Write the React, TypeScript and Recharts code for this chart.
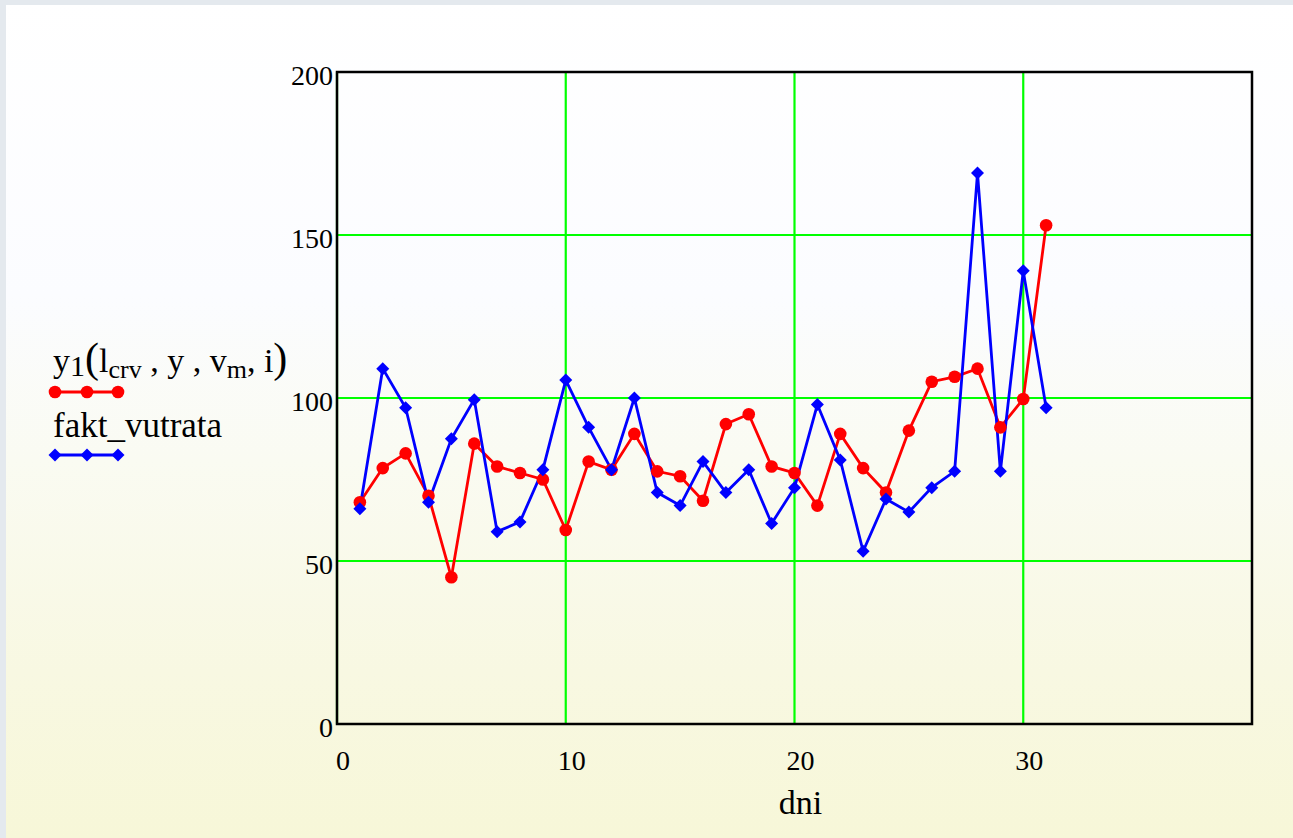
import { LineChart, Line, XAxis, YAxis, CartesianGrid, ReferenceArea, Legend } from 'recharts';

const days = [1, 2, 3, 4, 5, 6, 7, 8, 9, 10, 11, 12, 13, 14, 15, 16, 17, 18, 19, 20, 21, 22, 23, 24, 25, 26, 27, 28, 29, 30, 31];
const modelValues = [68, 78.5, 83, 70, 45, 86, 79, 77, 75, 59.5, 80.5, 78, 89, 77.5, 76, 68.5, 92, 95, 79, 77, 67, 89, 78.5, 71, 90, 105, 106.5, 109, 91, 99.7, 153];
const factValues = [66, 109, 97, 68, 87.5, 99.5, 59, 62, 78, 105.5, 91, 78, 100, 71, 67, 80.5, 71, 78, 61.5, 72.5, 98, 81, 53, 69, 65, 72.5, 77.5, 169, 77.5, 139, 97];
const xTicks = [0, 10, 20, 30];
const yTicks = [0, 50, 100, 150, 200];

const data = days.map((d, i) => ({ day: d, model: modelValues[i], fact: factValues[i] }));

const SERIF = '"Liberation Serif", "DejaVu Serif", serif';
const RED = '#ff0000';
const BLUE = '#0000ff';

function Diamond({ cx, cy, size = 6.5 }: { cx?: number; cy?: number; size?: number }) {
  if (cx == null || cy == null) return null;
  return (
    <polygon
      points={`${cx},${cy - size} ${cx + size},${cy} ${cx},${cy + size} ${cx - size},${cy}`}
      fill={BLUE}
    />
  );
}

function XTick({ x, y, payload }: any) {
  return (
    <text x={x + 6} y={y + 38} textAnchor="middle" fontFamily={SERIF} fontSize={28} fill="#000">
      {payload.value}
    </text>
  );
}

function YTick({ y, payload }: any) {
  return (
    <text x={333} y={y + 13} textAnchor="end" fontFamily={SERIF} fontSize={28} fill="#000">
      {payload.value}
    </text>
  );
}

function LegendBox() {
  const xs = [55, 87, 118];
  return (
    <svg width={300} height={140} style={{ display: 'block' }}>
      <text x={53} y={42} fontFamily={SERIF} fontSize={34} fill="#000">
        <tspan>y</tspan>
        <tspan fontSize={30} dy={4}>1</tspan>
        <tspan fontSize={42} dy={-4}>(</tspan>
        <tspan>l</tspan>
        <tspan fontSize={26} dy={6}>crv</tspan>
        <tspan dy={-6}> , y , v</tspan>
        <tspan fontSize={26} dy={6}>m</tspan>
        <tspan dy={-6}>, i</tspan>
        <tspan fontSize={42}>)</tspan>
      </text>
      <line x1={55} x2={118} y1={62} y2={62} stroke={RED} strokeWidth={2.8} />
      {xs.map((x) => (
        <circle key={`r${x}`} cx={x} cy={62} r={6.3} fill={RED} />
      ))}
      <text x={53} y={107} fontFamily={SERIF} fontSize={35} fill="#000">
        fakt_vutrata
      </text>
      <line x1={55} x2={118} y1={125} y2={125} stroke={BLUE} strokeWidth={2.8} />
      {xs.map((x) => (
        <Diamond key={`b${x}`} cx={x} cy={125} />
      ))}
    </svg>
  );
}

export default function App() {
  return (
    <div
      style={{
        position: 'relative',
        width: 1293,
        height: 838,
        overflow: 'hidden',
        background:
          'linear-gradient(to bottom, #ffffff 0%, #fbfcff 35%, #fafbf2 55%, #f8f8e2 80%, #f7f7d8 100%)',
      }}
    >
      <style>{'body{margin:0}'}</style>
      <div style={{ position: 'absolute', left: 0, top: 0, width: 1293, height: 5, background: '#e4e9ee' }} />
      <div style={{ position: 'absolute', left: 0, top: 0, width: 6, height: 838, background: '#e4e9ee' }} />
      <div style={{ position: 'absolute', left: 0, top: 0 }}>
        <LineChart width={1293} height={838} data={data} margin={{ top: 72, right: 41, left: 0, bottom: 0 }}>
          <CartesianGrid stroke="#00ff00" strokeWidth={2.2} horizontalValues={yTicks} verticalValues={xTicks} />
          <XAxis
            dataKey="day"
            type="number"
            domain={[0, 40]}
            ticks={xTicks}
            height={114}
            axisLine={false}
            tickLine={false}
            tick={<XTick />}
            interval={0}
            label={{
              content: ({ viewBox }: any) => (
                <text
                  x={viewBox.x + viewBox.width / 2 + 6}
                  y={viewBox.y + 90}
                  textAnchor="middle"
                  fontFamily={SERIF}
                  fontSize={34}
                  fill="#000"
                >
                  dni
                </text>
              ),
            }}
          />
          <YAxis
            type="number"
            domain={[0, 200]}
            ticks={yTicks}
            width={337}
            axisLine={false}
            tickLine={false}
            tick={<YTick />}
            interval={0}
          />
          <ReferenceArea x1={0} x2={40} y1={0} y2={200} fill="none" stroke="#000" strokeWidth={2.5} ifOverflow="visible" />
          <Legend
            layout="horizontal"
            verticalAlign="middle"
            align="center"
            wrapperStyle={{ position: 'absolute', left: 0, top: 330, width: 300, height: 140 }}
            content={() => <LegendBox />}
          />
          <Line
            dataKey="model"
            name="y1(lcrv , y , vm, i)"
            stroke={RED}
            strokeWidth={2.8}
            dot={{ r: 6.3, fill: RED, stroke: 'none' }}
            activeDot={false}
            isAnimationActive={false}
          />
          <Line
            dataKey="fact"
            name="fakt_vutrata"
            stroke={BLUE}
            strokeWidth={2.8}
            dot={(p: any) => <Diamond key={`d${p.index}`} cx={p.cx} cy={p.cy} />}
            activeDot={false}
            isAnimationActive={false}
          />
        </LineChart>
      </div>
    </div>
  );
}
